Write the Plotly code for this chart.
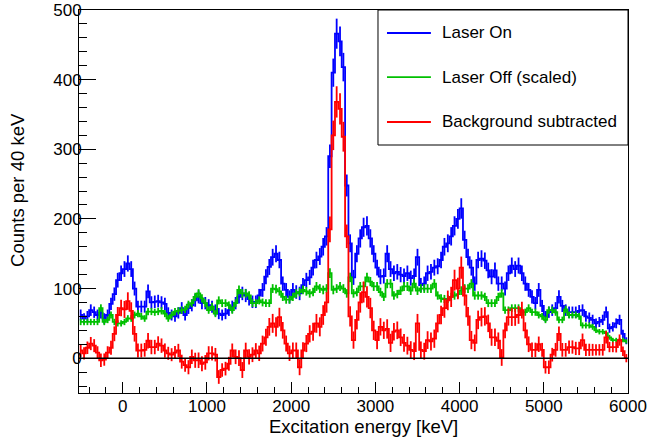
import numpy as np
import plotly.graph_objects as go

# ---------------- data (40 keV bins, lower edge -520 keV) ----------------
BIN_LOW = -520
BIN_WIDTH = 40

laser_on = [
    62, 57, 60, 69, 66, 62, 65, 57, 62, 78,
    92, 112, 122, 128, 136, 128, 100, 74, 74, 74,
    96, 80, 81, 82, 80, 78, 65, 62, 60, 65,
    72, 62, 72, 76, 83, 88, 79, 79, 76, 74,
    69, 64, 62, 64, 69, 74, 79, 88, 93, 90,
    85, 81, 81, 90, 98, 117, 131, 145, 150, 141,
    107, 98, 88, 98, 95, 93, 105, 112, 116, 130,
    141, 146, 160, 175, 290, 410, 466, 455, 418, 248,
    165, 116, 150, 172, 188, 190, 172, 150, 130, 117,
    118, 150, 128, 122, 124, 120, 118, 122, 115, 118,
    145, 105, 107, 122, 124, 130, 132, 141, 160, 165,
    175, 190, 200, 215, 170, 145, 130, 107, 141, 143,
    140, 126, 117, 126, 107, 107, 100, 122, 133, 128,
    133, 122, 107, 98, 88, 79, 98, 75, 60, 66,
    69, 72, 88, 75, 69, 66, 66, 66, 68, 69,
    60, 58, 55, 50, 52, 55, 66, 43, 45, 50,
    55, 35, 25,
]

laser_off_scaled = [
    52, 52, 52, 52, 52, 52, 72, 52, 55, 62,
    52, 50, 50, 52, 57, 57, 62, 64, 60, 57,
    67, 67, 66, 67, 68, 64, 57, 62, 67, 68,
    69, 70, 77, 79, 88, 93, 86, 79, 69, 74,
    64, 83, 79, 79, 76, 69, 79, 98, 93, 93,
    90, 79, 79, 83, 80, 79, 79, 100, 99, 96,
    88, 84, 84, 88, 93, 95, 98, 96, 93, 95,
    103, 100, 98, 100, 122, 98, 100, 103, 100, 93,
    116, 93, 95, 103, 103, 116, 110, 103, 103, 95,
    88, 107, 107, 90, 92, 97, 103, 103, 97, 107,
    97, 100, 100, 100, 100, 107, 90, 86, 85, 85,
    88, 90, 92, 97, 100, 100, 107, 90, 90, 90,
    88, 79, 79, 79, 88, 93, 69, 69, 72, 72,
    72, 66, 66, 72, 66, 66, 62, 60, 55, 69,
    69, 66, 55, 55, 70, 62, 62, 62, 60, 47,
    47, 47, 45, 40, 38, 38, 36, 30, 26, 26,
    26, 26, 24,
]

background_subtracted = [
    11, 7, 15, 21, 18, 8, -3, -2, 8, 15,
    35, 62, 72, 70, 82, 68, 35, 11, 11, 12,
    25, 16, 16, 21, 18, 11, 7, 5, 8, 11,
    -5, -10, -13, 2, -3, -3, -8, -6, 7, 7,
    5, -27, -17, -15, -8, 11, 2, 0, -17, 11,
    2, 5, 11, 7, 21, 30, 45, 50, 45, 59,
    40, 21, 7, 11, 11, -13, 11, 21, 35, 38,
    50, 45, 62, 80, 185, 320, 368, 358, 318, 175,
    60, 26, 55, 80, 95, 88, 72, 40, 26, 45,
    40, 42, 22, 38, 40, 30, 22, 18, 12, 10,
    50, 12, 10, 26, 24, 28, 50, 62, 72, 83,
    88, 112, 100, 130, 90, 60, 26, 22, 55, 59,
    60, 50, 30, 30, 25, 1, 40, 59, 59, 59,
    62, 69, 40, 20, 12, 12, 20, 12, -13, -13,
    5, 12, 35, 12, 12, 16, 16, 14, 14, 26,
    12, 12, 12, 12, 12, 12, 30, 16, 16, 16,
    26, 10, 0,
]

series_names = ["Laser On", "Laser Off (scaled)", "Background subtracted"]
series_colors = ["#0000ff", "#00c000", "#ff0000"]
OFF_SCALE_VAR = 0.4   # variance factor of the scaled laser-off spectrum

x_ticks = [0, 1000, 2000, 3000, 4000, 5000, 6000]
y_ticks = [0, 100, 200, 300, 400, 500]

# ---------------- derived ----------------
on = np.array(laser_on, dtype=float)
off = np.array(laser_off_scaled, dtype=float)
sub = np.array(background_subtracted, dtype=float)
energy = BIN_LOW + BIN_WIDTH * (np.arange(len(on)) + 0.5)

err_on = np.sqrt(np.abs(on))
err_off = np.sqrt(np.abs(off) * OFF_SCALE_VAR)
err_sub = np.sqrt(err_on ** 2 + err_off ** 2)

FONT = "Liberation Sans, Arial, Helvetica, sans-serif"
LW = 1.8
TITLE_SIZE = 18.5

fig = go.Figure()
for y, e, name, col in zip([on, off, sub], [err_on, err_off, err_sub],
                           series_names, series_colors):
    fig.add_trace(go.Scatter(
        x=energy, y=y, name=name, mode="lines",
        line=dict(color=col, width=LW, shape="hvh"),
        error_y=dict(type="data", array=e, visible=True, width=0,
                     thickness=LW, color=col),
        showlegend=False,
    ))

# zero line on top
fig.add_shape(type="line", xref="paper", yref="y", x0=0, x1=1, y0=0, y1=0,
              line=dict(color="black", width=1.5), layer="above")

# manual ROOT-style legend
L_X0, L_X1, L_Y0, L_Y1 = 0.5446, 1.0, 0.6475, 1.0
fig.add_shape(type="rect", xref="paper", yref="paper",
              x0=L_X0, x1=L_X1, y0=L_Y0, y1=L_Y1,
              line=dict(color="black", width=1), fillcolor="white", layer="above")
row_y = [0.940, 0.825, 0.7076]
for ry, name, col in zip(row_y, series_names, series_colors):
    fig.add_shape(type="line", xref="paper", yref="paper",
                  x0=0.561, x1=0.641, y0=ry, y1=ry,
                  line=dict(color=col, width=LW), layer="above")
    fig.add_annotation(xref="paper", yref="paper", x=0.6576, y=ry,
                       text=name, showarrow=False, xanchor="left",
                       yanchor="middle",
                       font=dict(family=FONT, size=17, color="black"))

# axis titles
fig.add_annotation(xref="paper", yref="paper", x=0.5175, y=-0.087,
                   text="Excitation energy [keV]", showarrow=False,
                   xanchor="center", yanchor="middle", borderpad=0,
                   font=dict(family=FONT, size=TITLE_SIZE, color="black"))
fig.add_annotation(xref="paper", yref="paper", x=-0.113, y=0.53,
                   text="Counts per 40 keV", showarrow=False, textangle=-90,
                   xanchor="center", yanchor="middle",
                   font=dict(family=FONT, size=TITLE_SIZE, color="black"))

axis_common = dict(showline=True, linecolor="black", linewidth=1, mirror=True,
                   ticks="inside", tickcolor="black", tickwidth=1,
                   showgrid=False, zeroline=False, automargin=False,
                   tickfont=dict(family=FONT, size=17, color="black"))

fig.update_layout(
    width=647, height=440,
    margin=dict(l=79, r=19, t=10, b=47, autoexpand=False),
    paper_bgcolor="white", plot_bgcolor="white",
    xaxis=dict(range=[BIN_LOW, 6000], tickvals=x_ticks,
               ticktext=[str(v) for v in x_ticks], ticklen=11,
               ticklabelstandoff=-2,
               minor=dict(ticks="inside", dtick=200, tick0=0, ticklen=6,
                          tickcolor="black", tickwidth=1, showgrid=False),
               **axis_common),
    yaxis=dict(range=[-50, 500], tickvals=y_ticks,
               ticktext=[str(v) for v in y_ticks], ticklen=17,
               ticklabelstandoff=-7,
               minor=dict(ticks="inside", dtick=20, tick0=0, ticklen=8,
                          tickcolor="black", tickwidth=1, showgrid=False),
               **axis_common),
    showlegend=False,
)

fig.write_html("out.html")
